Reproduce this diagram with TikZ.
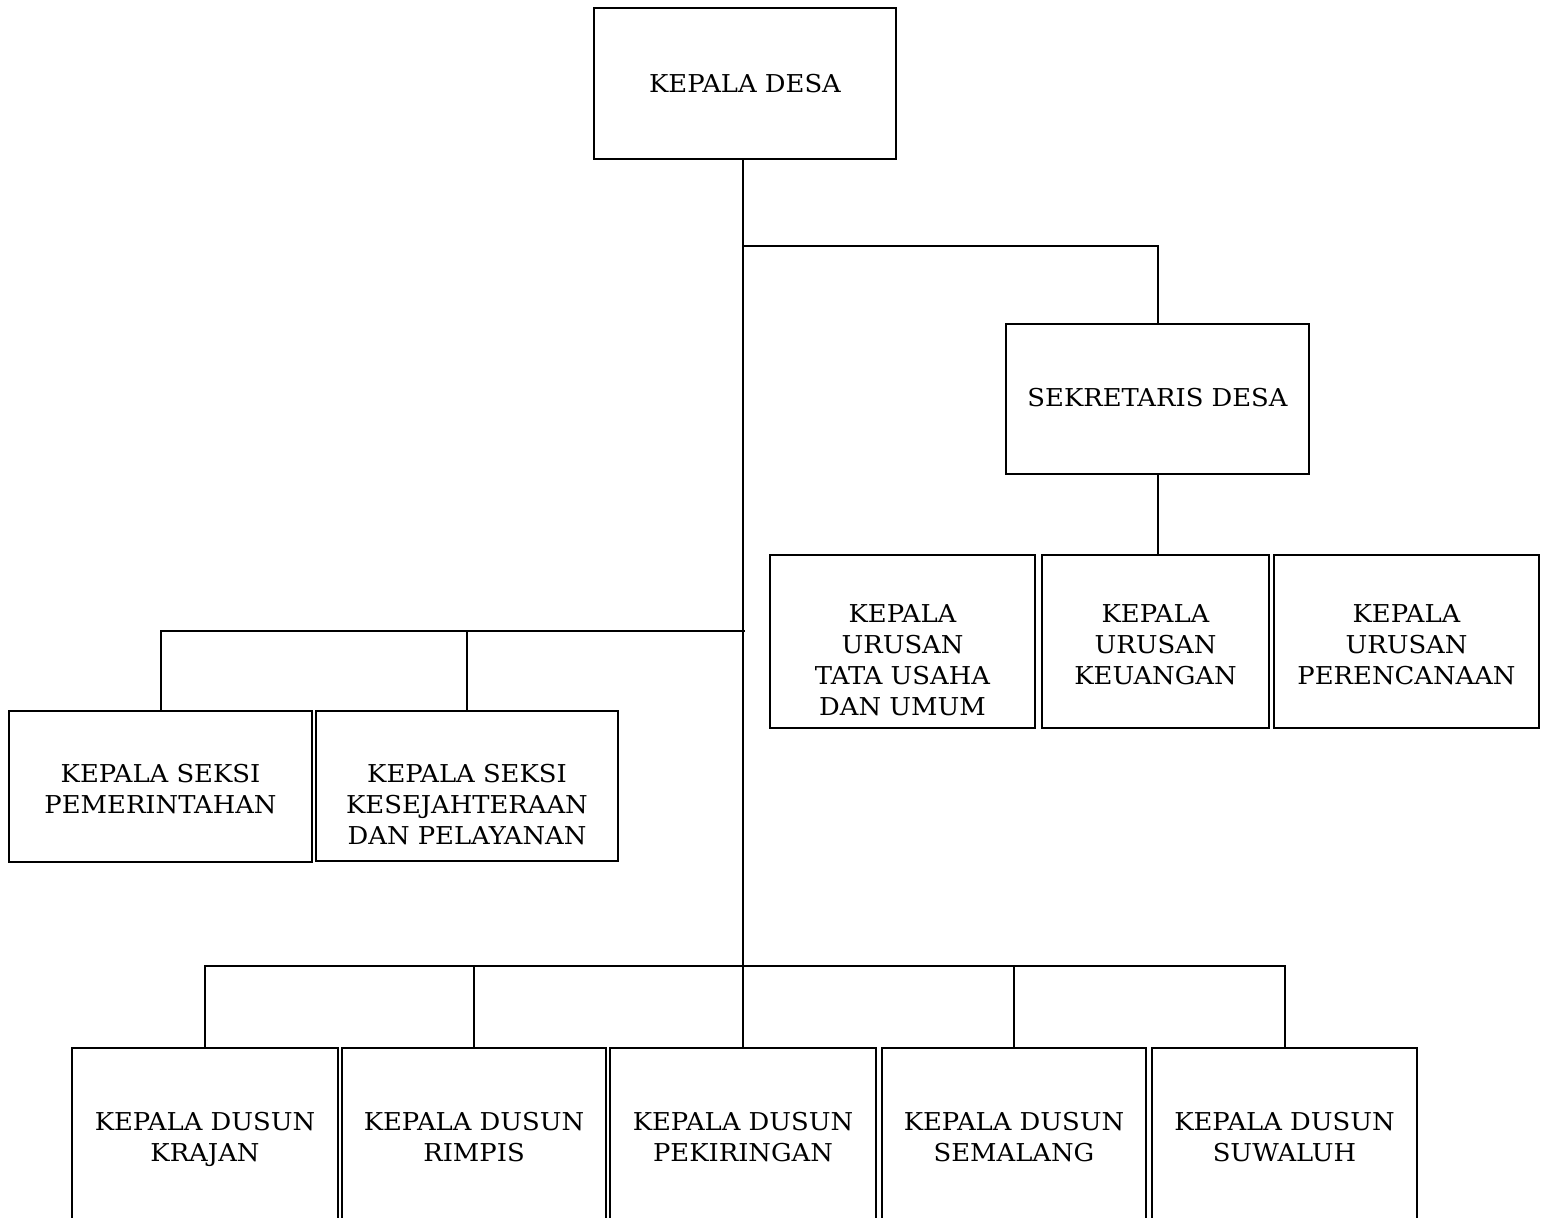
\documentclass[tikz,border=0pt]{standalone}
\usepackage{fontspec}
\setmainfont{DejaVu Serif}[FakeStretch=1.05]
\begin{document}
\begin{tikzpicture}[x=0.5pt,y=-0.5pt,
  box/.style={draw, line width=1.4pt, inner sep=0pt, outer sep=0pt},
  txt/.style={anchor=north, align=center, inner sep=0pt, font=\fontsize{12.3}{15.5}\selectfont},
  txt1/.style={txt, anchor=base},
  conn/.style={line width=1pt}]
\useasboundingbox (0,0) rectangle (1542,1218);
\clip (0,0) rectangle (1542,1218);
% boxes
\node[box, minimum width=151pt, minimum height=75.5pt] (kd) at (745,83.5) {};
\node[box, minimum width=151.5pt, minimum height=75pt] (sek) at (1157.5,399) {};
\node[box, minimum width=132.5pt, minimum height=86.5pt] (k1) at (902.5,641.5) {};
\node[box, minimum width=113.5pt, minimum height=86.5pt] (k2) at (1155.5,641.5) {};
\node[box, minimum width=132.5pt, minimum height=86.5pt] (k3) at (1406.5,641.5) {};
\node[box, minimum width=151.5pt, minimum height=75.5pt] (s1) at (160.5,786.5) {};
\node[box, minimum width=151pt, minimum height=75pt] (s2) at (467,786) {};
\node[box, minimum width=133pt, minimum height=101pt] (d1) at (205,1149) {};
\node[box, minimum width=132pt, minimum height=101pt] (d2) at (474,1149) {};
\node[box, minimum width=133pt, minimum height=101pt] (d3) at (743,1149) {};
\node[box, minimum width=132pt, minimum height=101pt] (d4) at (1014,1149) {};
\node[box, minimum width=132.5pt, minimum height=101pt] (d5) at (1284.5,1149) {};
% texts
\node[txt1] (tkd) at (745,93) {KEPALA DESA};
\node[txt1] (tsek) at (1157.5,407) {SEKRETARIS DESA};
\node[txt] (tk1) at (902.5,604) {KEPALA\\URUSAN\\TATA USAHA\\DAN UMUM};
\node[txt] (tk2) at (1155.5,604) {KEPALA\\URUSAN\\KEUANGAN};
\node[txt] (tk3) at (1406.5,604) {KEPALA\\URUSAN\\PERENCANAAN};
\node[txt] (ts1) at (160.5,764) {KEPALA SEKSI\\PEMERINTAHAN};
\node[txt] (ts2) at (467,764) {KEPALA SEKSI\\KESEJAHTERAAN\\DAN PELAYANAN};
\node[txt] (td1) at (205,1112) {KEPALA DUSUN\\KRAJAN};
\node[txt] (td2) at (474,1112) {KEPALA DUSUN\\RIMPIS};
\node[txt] (td3) at (743,1112) {KEPALA DUSUN\\PEKIRINGAN};
\node[txt] (td4) at (1014,1112) {KEPALA DUSUN\\SEMALANG};
\node[txt] (td5) at (1284.5,1112) {KEPALA DUSUN\\SUWALUH};
% junctions
\coordinate (jsek) at (743,246);
\coordinate (jkasi) at (745,631);
\coordinate (bus) at (743,966);
% connectors
\draw[conn] (d3.north |- kd.south) -- (d3.north);
\draw[conn] (jsek) -| (sek.north);
\draw[conn] (sek.south) -- (sek.south |- k2.north);
\draw[conn] (s1.north) |- (jkasi);
\draw[conn] (s2.north) -- (s2.north |- jkasi);
\draw[conn] (d1.north) |- (bus) -| (d5.north);
\draw[conn] (d2.north) -- (d2.north |- bus);
\draw[conn] (d4.north) -- (d4.north |- bus);
\end{tikzpicture}
\end{document}
